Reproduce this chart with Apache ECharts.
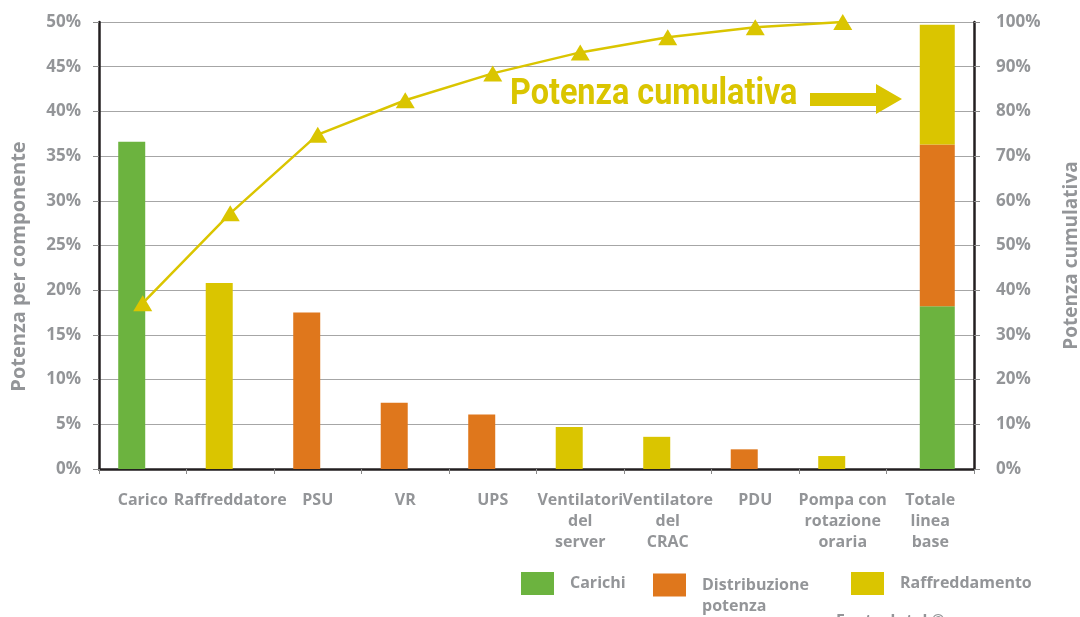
<!DOCTYPE html>
<html>
<head>
<meta charset="utf-8">
<script src="https://cdn.jsdelivr.net/npm/echarts@6/dist/echarts.min.js"></script>
<style>
  html, body { margin: 0; padding: 0; background: #fff; }
  #chart { width: 1080px; height: 617px; }
</style>
</head>
<body>
<div id="chart"></div>
<script>
// categorie
const categories = ['Carico', 'Raffreddatore', 'PSU', 'VR', 'UPS',
  'Ventilatori\ndel\nserver', 'Ventilatore\ndel\nCRAC', 'PDU',
  'Pompa con\nrotazione\noraria', 'Totale\nlinea\nbase'];
// potenza per componente (%)
const carichiComp = [36.6, null, null, null, null, null, null, null, null, null];
const distribuzioneComp = [null, null, 17.5, 7.4, 6.1, null, null, 2.2, null, null];
const raffreddamentoComp = [null, 20.8, null, null, null, 4.7, 3.6, null, 1.45, null];
// totale linea base (barra impilata)
const carichiTot = [null, null, null, null, null, null, null, null, null, 18.2];
const distribuzioneTot = [null, null, null, null, null, null, null, null, null, 18.1];
const raffreddamentoTot = [null, null, null, null, null, null, null, null, null, 13.4];
// potenza cumulativa (%)
const cumulativa = [37.1, 57.2, 74.8, 82.5, 88.5, 93.2, 96.6, 98.8, 100, null];
// etichette assi
const leftTicks = [0, 5, 10, 15, 20, 25, 30, 35, 40, 45, 50];
const rightTicks = [0, 10, 20, 30, 40, 50, 60, 70, 80, 90, 100];

const GREEN = '#6cb33f';
const ORANGE = '#df771c';
const YELLOW = '#dac500';
const GRAY = '#939598';
const FONT = '"Open Sans", Roboto, sans-serif';

const chart = echarts.init(document.getElementById('chart'), null, {renderer: 'canvas'});

function legendAt(left, name, extra) {
  return Object.assign({
    left: left,
    top: 572,
    padding: 0,
    data: [name],
    icon: 'rect',
    itemWidth: 33,
    itemHeight: 23,
    itemGap: 0,
    selectedMode: false,
    textStyle: {color: GRAY, fontFamily: FONT, fontWeight: 'bold', fontSize: 16, padding: [0, 0, 0, 11]}
  }, extra || {});
}

const barCommon = {type: 'bar', xAxisIndex: 0, yAxisIndex: 0};

const option = {
  animation: false,
  grid: {left: 99, right: 106, top: 22, bottom: 148, containLabel: false, outerBoundsMode: 'none'},
  legend: [
    legendAt(521, 'Carichi'),
    legendAt(653, 'Distribuzione potenza', {
      top: 553.5,
      // riga vuota iniziale: la prima riga resta centrata sul quadratino
      formatter: function () { return ' \nDistribuzione\npotenza'; },
      textStyle: {color: GRAY, fontFamily: FONT, fontWeight: 'bold', fontSize: 16, lineHeight: 21, padding: [0, 0, 0, 11]}
    }),
    legendAt(851, 'Raffreddamento')
  ],
  xAxis: [{
    type: 'category',
    data: categories,
    axisLine: {show: true, lineStyle: {color: '#231f20', width: 2.5}},
    axisTick: {show: true, alignWithLabel: false, length: 5, lineStyle: {color: '#8a8a8a'}},
    axisLabel: {
      interval: 0,
      color: GRAY,
      fontFamily: FONT,
      fontWeight: 'bold',
      fontSize: 16,
      lineHeight: 21,
      margin: 21
    },
    splitLine: {show: false}
  }],
  yAxis: [{
    type: 'value',
    min: 0, max: 50, interval: 5,
    position: 'left',
    name: 'Potenza per componente',
    nameLocation: 'middle',
    nameGap: 70,
    nameRotate: 90,
    nameTextStyle: {color: GRAY, fontFamily: FONT, fontWeight: 'bold', fontSize: 20, padding: [0, 42, 0, 0]},
    axisLine: {show: true, lineStyle: {color: '#231f20', width: 2.5}},
    axisTick: {show: true, length: 6, lineStyle: {color: '#8a8a8a'}},
    axisLabel: {
      color: GRAY, fontFamily: FONT, fontWeight: 'bold', fontSize: 17, margin: 18,
      formatter: function (v) { return leftTicks.indexOf(v) >= 0 ? v + '%' : ''; }
    },
    splitLine: {show: true, lineStyle: {color: '#a6a6a6', width: 1.2}}
  }, {
    type: 'value',
    min: 0, max: 100, interval: 10,
    position: 'right',
    name: 'Potenza cumulativa',
    nameLocation: 'middle',
    nameGap: 88,
    nameRotate: 90,
    nameTextStyle: {color: GRAY, fontFamily: FONT, fontWeight: 'bold', fontSize: 19, padding: [0, 20, 0, 0]},
    axisLine: {show: true, lineStyle: {color: '#231f20', width: 2.5}},
    axisTick: {show: true, length: 6, lineStyle: {color: '#8a8a8a'}},
    axisLabel: {
      color: GRAY, fontFamily: FONT, fontWeight: 'bold', fontSize: 17, margin: 22,
      formatter: function (v) { return rightTicks.indexOf(v) >= 0 ? v + '%' : ''; }
    },
    splitLine: {show: false}
  }],
  series: [
    // barre dei componenti
    Object.assign({}, barCommon, {name: 'Carichi', stack: 'comp', data: carichiComp, barWidth: 27, barGap: '-48%', itemStyle: {color: GREEN}}),
    Object.assign({}, barCommon, {name: 'Distribuzione potenza', stack: 'comp', data: distribuzioneComp, barWidth: 27, barGap: '-48%', itemStyle: {color: ORANGE}}),
    Object.assign({}, barCommon, {name: 'Raffreddamento', stack: 'comp', data: raffreddamentoComp, barWidth: 27, barGap: '-48%', itemStyle: {color: YELLOW}}),
    // barra del totale
    Object.assign({}, barCommon, {name: 'Carichi', stack: 'tot', data: carichiTot, barWidth: 35, barGap: '-48%', itemStyle: {color: GREEN}}),
    Object.assign({}, barCommon, {name: 'Distribuzione potenza', stack: 'tot', data: distribuzioneTot, barWidth: 35, barGap: '-48%', itemStyle: {color: ORANGE}}),
    Object.assign({}, barCommon, {name: 'Raffreddamento', stack: 'tot', data: raffreddamentoTot, barWidth: 35, barGap: '-48%', itemStyle: {color: YELLOW}}),
    // linea cumulativa
    {
      name: 'Potenza cumulativa',
      type: 'line',
      yAxisIndex: 1,
      data: cumulativa,
      symbol: 'triangle',
      symbolSize: [19, 16],
      clip: false,
      lineStyle: {color: YELLOW, width: 2.5},
      itemStyle: {color: YELLOW},
      z: 5
    }
  ],
  graphic: [
    {
      type: 'text',
      x: 510, y: 76,
      scaleX: 0.875,
      style: {
        text: 'Potenza cumulativa',
        fill: YELLOW,
        font: 'bold 37px Roboto, sans-serif'
      },
      z: 10
    },
    {
      type: 'polygon',
      shape: {points: [[810, 93], [876, 93], [876, 84], [902, 99], [876, 114], [876, 106], [810, 106]]},
      style: {fill: YELLOW},
      z: 10
    },
    {
      type: 'text',
      left: 836, top: 613,
      style: {text: 'Fonte: Intel ©', fill: GRAY, font: 'bold 16px "Open Sans"'}
    }
  ]
};

chart.setOption(option);
</script>
</body>
</html>
